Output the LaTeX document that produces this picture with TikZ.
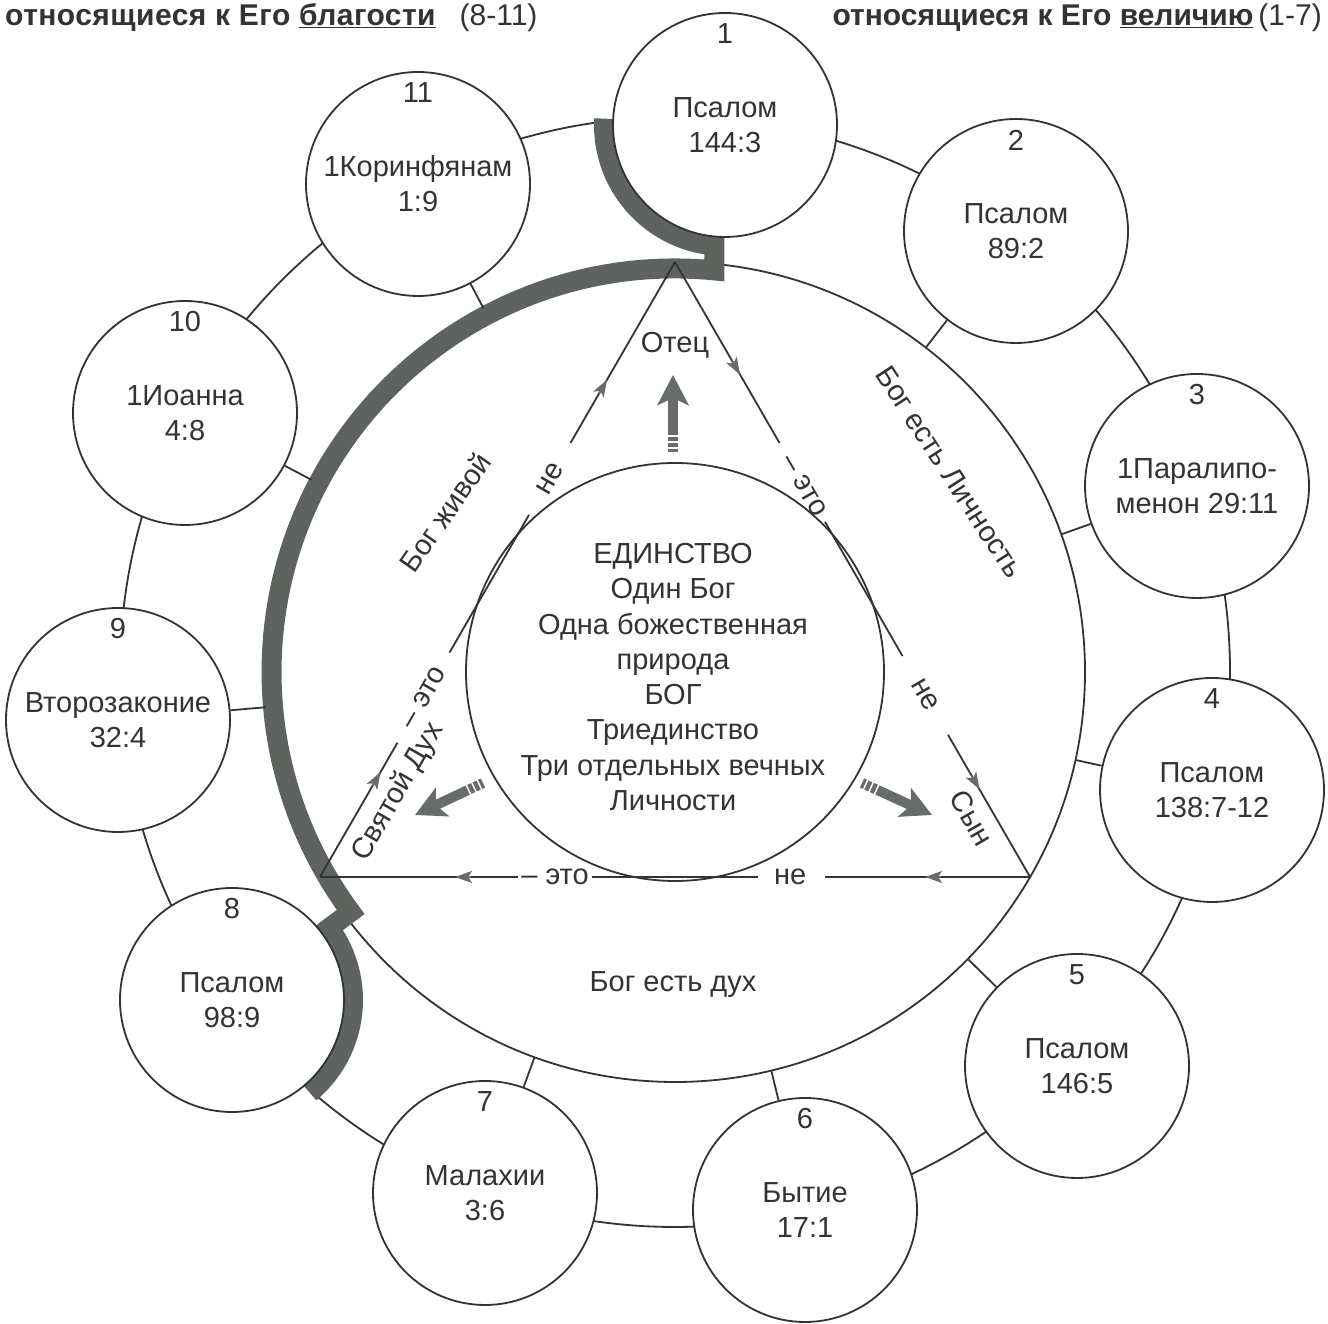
\documentclass[tikz,border=0pt]{standalone}
\usepackage{fontspec}
\setmainfont{Liberation Sans}
\usetikzlibrary{calc,arrows.meta}
\definecolor{ink}{HTML}{333333}
\definecolor{bandgray}{HTML}{5E6360}
\definecolor{arrgray}{HTML}{676C69}
\newcommand\txtsize{\fontsize{29}{35}\selectfont}
\newcommand\hdsize{\fontsize{30}{34}\selectfont}
\begin{document}
\begin{tikzpicture}[x=1pt,y=1pt,
  line/.style={draw=ink, line width=1.8pt},
  smallc/.style={circle, draw=ink, line width=1.8pt, fill=white, minimum size=224pt, inner sep=0pt, align=center, font=\txtsize, text=ink},
  num/.style={font=\txtsize, text=ink, inner sep=0pt},
  lbl/.style={font=\txtsize, text=ink, inner sep=1pt},
  tipa/.style={-{Stealth[length=17pt,width=12pt,inset=4pt]}, draw=arrgray, fill=arrgray, line width=1.8pt},
  bigarrow/.style={draw=arrgray, line width=10pt, -{Stealth[length=30pt,width=31pt,inset=7pt]}},
  feather/.style={draw=white, line width=1.5pt},
]
\useasboundingbox (0,0) rectangle (1328,1324);
\fill[white] (0,0) rectangle (1328,1324);

% centre and triangle vertices
\coordinate (O) at (675,652);
\coordinate (P) at (675,1062);
\coordinate (S) at (319.93,447);
\coordinate (R) at (1030.07,447);

% outer ring
\draw[line] (O) circle[radius=555];

% main circle
\node[circle, draw=ink, line width=1.8pt, minimum size=820pt, inner sep=0pt] (main) at (O) {};

% small circle positions
\path
  (725,1199) coordinate (p1)
  (1016,1093) coordinate (p2)
  (1197,838) coordinate (p3)
  (1212,534) coordinate (p4)
  (1077,258) coordinate (p5)
  (805,114) coordinate (p6)
  (485,131) coordinate (p7)
  (232,324) coordinate (p8)
  (118,604) coordinate (p9)
  (185,911) coordinate (p10)
  (418,1140) coordinate (p11);

% thick highlighted band
\draw[draw=bandgray, line width=20pt, line join=miter, miter limit=10]
  ($(p1)+(177:121)$) arc[start angle=177, end angle=265, radius=121]
  -- (714.45,1053.57)
  arc[start angle=84.39, end angle=216.5, radius=403.5]
  -- ($(p8)+(36.52:121)$)
  arc[start angle=36.52, end angle=-50, radius=121];

% small circles
\node[smallc] (c1) at (p1) {Псалом\\144:3};
\node[smallc] (c2) at (p2) {Псалом\\89:2};
\node[smallc] (c3) at (p3) {1Паралипо-\\менон 29:11};
\node[smallc] (c4) at (p4) {Псалом\\138:7-12};
\node[smallc] (c5) at (p5) {Псалом\\146:5};
\node[smallc] (c6) at (p6) {Бытие\\17:1};
\node[smallc] (c7) at (p7) {Малахии\\3:6};
\node[smallc] (c8) at (p8) {Псалом\\98:9};
\node[smallc] (c9) at (p9) {Второзаконие\\32:4};
\node[smallc] (c10) at (p10) {1Иоанна\\4:8};
\node[smallc] (c11) at (p11) {1Коринфянам\\1:9};

\foreach \i in {1,...,11} {
  \node[num] (n\i) at ($(p\i)+(0,91)$) {\i};
}

% radial connectors
\foreach \i in {2,3,4,5,6,7,9,10,11} {
  \draw[line] (c\i) -- (main);
}

% triangle sides with gaps
\draw[line] (P) -- ($(P)!209pt!(S)$);
\draw[line] ($(P)!292pt!(S)$) -- ($(P)!451pt!(S)$);
\draw[line] ($(P)!555pt!(S)$) -- (S);
\draw[line] (P) -- ($(P)!209pt!(R)$);
\draw[line] ($(P)!300pt!(R)$) -- ($(P)!455pt!(R)$);
\draw[line] ($(P)!546pt!(R)$) -- (R);
\draw[line] (R) -- ($(R)!205pt!(S)$);
\draw[line] ($(R)!272pt!(S)$) -- ($(R)!438pt!(S)$);
\draw[line] ($(R)!512pt!(S)$) -- (S);

% small arrow tips on the sides
\draw[tipa] ($(P)!152pt!(S)$) -- ($(P)!136pt!(S)$);
\draw[tipa] ($(P)!605pt!(S)$) -- ($(P)!589pt!(S)$);
\draw[tipa] ($(P)!114pt!(R)$) -- ($(P)!130pt!(R)$);
\draw[tipa] ($(P)!593pt!(R)$) -- ($(P)!609pt!(R)$);
\draw[tipa] ($(R)!89pt!(S)$) -- ($(R)!105pt!(S)$);
\draw[tipa] ($(R)!559pt!(S)$) -- ($(R)!575pt!(S)$);

% inner circle and its text
\node[circle, draw=ink, line width=1.8pt, minimum size=418pt, inner sep=0pt] (unity) at (O) {};
\node[align=center, font=\fontsize{29}{35.3}\selectfont, text=ink, inner sep=0pt] (unitytext) at (673,647)
  {ЕДИНСТВО\\Один Бог\\Одна божественная\\природа\\БОГ\\Триединство\\Три отдельных вечных\\Личности};

% big grey arrows
\coordinate (ua) at (673,872); \coordinate (ub) at (673,949);
\coordinate (la) at (483,541); \coordinate (lb) at (415,509);
\coordinate (ra) at (862,541); \coordinate (rb) at (932,509);
\draw[bigarrow] (ua) -- (ub);
\draw[bigarrow] (la) -- (lb);
\draw[bigarrow] (ra) -- (rb);
\foreach \a/\b in {ua/ub, la/lb, ra/rb} {
  \foreach \d in {4,10,16} {
    \draw[feather] ($(\a)!\d pt!(\b)!6pt!90:(\b)$) -- ($(\a)!\d pt!(\b)!6pt!-90:(\b)$);
  }
}

% labels in the triangle
\node[lbl] (otec) at (675,979) {Отец};
\node[lbl, rotate=-60] (syn) at (972,506) {Сын};
\node[lbl, rotate=60] (dukh) at (398,532) {Святой Дух};
\node[lbl, rotate=60] (le1) at ($(P)!250pt!(S)$) {не};
\node[lbl, rotate=60] (le2) at ($(P)!503pt!(S)$) {– это};
\node[lbl, rotate=-60] (re1) at ($(P)!258pt!(R)$) {– это};
\node[lbl, rotate=-60] (re2) at ($(P)!500pt!(R)$) {не};
\node[lbl] (be1) at ($(R)!240pt!(S)$) {не};
\node[lbl] (be2) at ($(R)!475pt!(S)$) {– это};

\node[lbl, rotate=55] (zhivoy) at (445,812) {Бог живой};
\node[lbl, rotate=-57] (lichn) at (950,852) {Бог есть Личность};
\node[lbl] (dukhl) at (673,339) {Бог есть дух};

% headers
\node[anchor=west, inner sep=0pt, font=\hdsize, text=ink] (hl) at (5,1306)
  {\textbf{\addfontfeatures{LetterSpace=1.5}относящиеся к Его \underline{благости}}\hspace{24pt}(8-11)};
\node[anchor=east, inner sep=0pt, font=\hdsize, text=ink] (hr) at (1322,1306)
  {\textbf{относящиеся к Его \underline{величию}}\,(1-7)};
\end{tikzpicture}
\end{document}
